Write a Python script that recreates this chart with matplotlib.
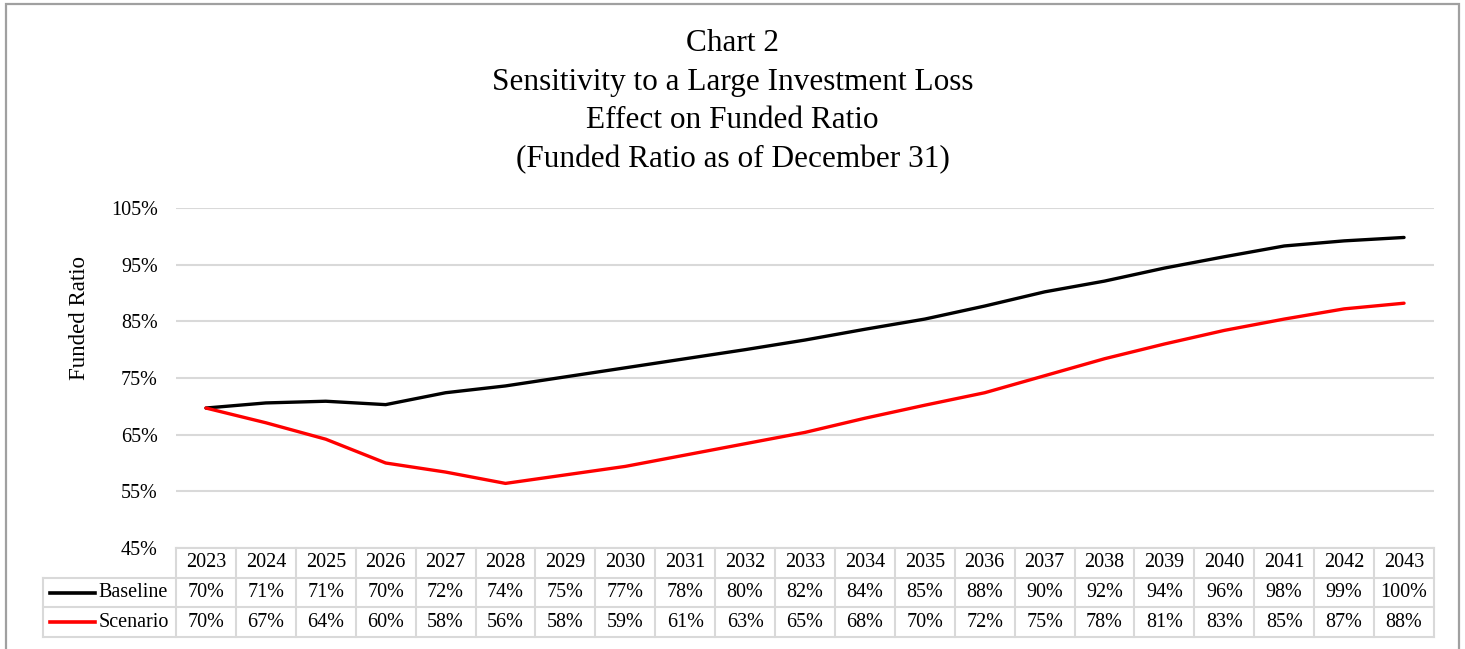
import matplotlib
matplotlib.use('Agg')
import matplotlib.pyplot as plt
from matplotlib.transforms import blended_transform_factory
from matplotlib.lines import Line2D
from matplotlib.patches import Rectangle

plt.rcParams['font.family'] = ['Liberation Serif', 'DejaVu Serif']

# Data
years = [str(y) for y in range(2023, 2044)]
baseline = [69.7, 70.6, 70.9, 70.3, 72.4, 73.6, 75.2, 76.8, 78.4, 80.0, 81.7,
            83.6, 85.4, 87.7, 90.2, 92.1, 94.4, 96.4, 98.3, 99.2, 99.8]
scenario = [69.7, 67.1, 64.2, 60.0, 58.4, 56.4, 57.9, 59.4, 61.4, 63.4, 65.4,
            67.9, 70.2, 72.4, 75.4, 78.4, 81.0, 83.4, 85.4, 87.2, 88.2]
series_names = ['Baseline', 'Scenario']
series_colors = ['black', '#ff0000']
y_ticks = [45, 55, 65, 75, 85, 95, 105]

title = ('Chart 2\nSensitivity to a Large Investment Loss\n'
         'Effect on Funded Ratio\n(Funded Ratio as of December 31)')

W, H = 1465, 649
fig = plt.figure(figsize=(W / 100, H / 100), dpi=100)

# outer chart border
fig.patches.append(Rectangle((6 / W, -0.01), 1453 / W, 1.01 - 4 / H,
                             transform=fig.transFigure, fill=False,
                             edgecolor='#a0a0a0', linewidth=1.6))

ax = fig.add_axes([176 / W, 1 - 548 / H, 1258 / W, 340 / H])
x = list(range(len(years)))
for vals, col in zip([baseline, scenario], series_colors):
    ax.plot(x, vals, color=col, linewidth=2.4, solid_capstyle='round', zorder=3)

ax.set_xlim(-0.5, len(years) - 0.5)
ax.set_ylim(45, 105)
ax.set_yticks(y_ticks)
ax.set_yticklabels([f'{v}%' for v in y_ticks], fontsize=14.5)
ax.set_xticks([])
ax.tick_params(axis='y', length=0, pad=13)
ax.grid(axis='y', color='#d9d9d9', linewidth=1.5)
for s in ax.spines.values():
    s.set_visible(False)
ax.set_ylabel('Funded Ratio', fontsize=16.5)
ax.yaxis.set_label_coords(-0.0685, 0.676)

fig.text(0.5, 1 - 101.5 / H, title, ha='center', va='center', fontsize=22.5,
         linespacing=1.43)

# data table under the plot
tr = blended_transform_factory(ax.transData, ax.transAxes)
rh = 29.7 / 340
left = (43 - 176) / (1258 / 21) - 0.5
right = len(years) - 0.5
gc = '#d9d9d9'
lw = 1.5
ax.add_line(Line2D([-0.5, right], [0, 0], transform=tr, color=gc, lw=lw, clip_on=False))
for k in range(1, 4):
    ax.add_line(Line2D([left, right], [-k * rh, -k * rh], transform=tr, color=gc,
                       lw=lw, clip_on=False))
for i in range(len(years) + 1):
    ax.add_line(Line2D([i - 0.5, i - 0.5], [0, -3 * rh], transform=tr, color=gc,
                       lw=lw, clip_on=False))
ax.add_line(Line2D([left, left], [-rh, -3 * rh], transform=tr, color=gc, lw=lw,
                   clip_on=False))

for i, yr in enumerate(years):
    ax.text(i, -0.5 * rh, yr, transform=tr, ha='center', va='center', fontsize=14.5)

for r, (name, vals, col) in enumerate(zip(series_names, [baseline, scenario],
                                          series_colors)):
    yc = -(r + 1.5) * rh
    ax.add_line(Line2D([left + 0.12, left + 0.87], [yc, yc], transform=tr,
                       color=col, lw=2.6, clip_on=False))
    ax.text(left + 0.93, yc, name, transform=tr, ha='left', va='center', fontsize=14.5)
    for i, v in enumerate(vals):
        ax.text(i, yc, f'{v:.0f}%', transform=tr, ha='center', va='center',
                fontsize=14.5)

fig.savefig('out.png', dpi=100)
